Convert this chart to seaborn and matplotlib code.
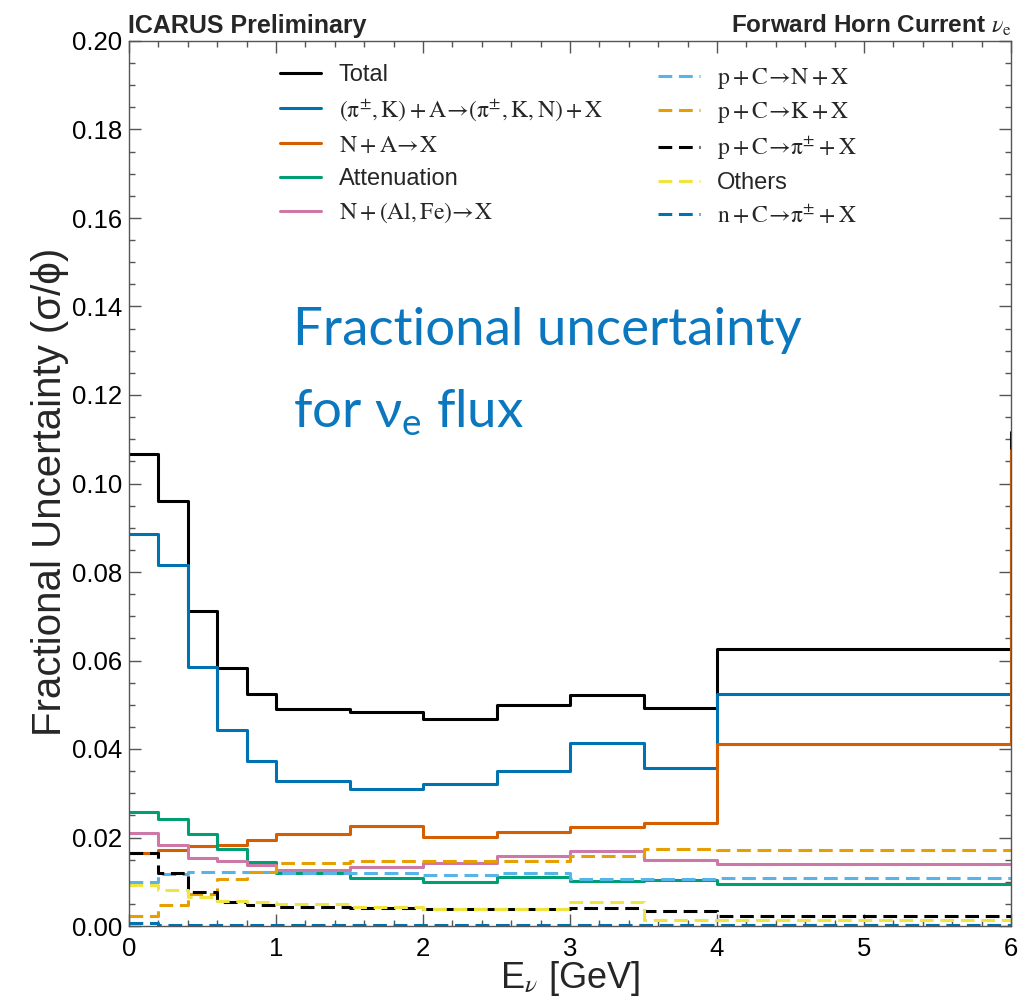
import numpy as np
import pandas as pd
import matplotlib
matplotlib.use("Agg")
import matplotlib.pyplot as plt
import seaborn as sns
from matplotlib.ticker import MultipleLocator, FormatStrFormatter
from matplotlib.font_manager import FontProperties

# ---------------- data (bin edges in GeV, fractional uncertainties) ----------------
bin_edges = [0.0, 0.2, 0.4, 0.6, 0.8, 1.0, 1.5, 2.0, 2.5, 3.0, 3.5, 4.0, 6.0, 7.0]  # last bin = overflow

total  = [0.1067, 0.0960, 0.0712, 0.0583, 0.0524, 0.0490, 0.0484, 0.0468, 0.0500, 0.0522, 0.0493, 0.0626, 0.1116]
pik_A  = [0.0886, 0.0816, 0.0585, 0.0442, 0.0373, 0.0328, 0.0310, 0.0322, 0.0351, 0.0414, 0.0358, 0.0524, 0.0524]
nuc_A  = [0.0165, 0.0171, 0.0180, 0.0184, 0.0195, 0.0208, 0.0226, 0.0201, 0.0212, 0.0224, 0.0233, 0.0411, 0.1076]
atten  = [0.0258, 0.0242, 0.0209, 0.0174, 0.0144, 0.0120, 0.0108, 0.0099, 0.0111, 0.0102, 0.0104, 0.0095, 0.0095]
alfe   = [0.0210, 0.0184, 0.0154, 0.0147, 0.0138, 0.0127, 0.0133, 0.0142, 0.0158, 0.0170, 0.0149, 0.0140, 0.0140]
pC_N   = [0.0099, 0.0118, 0.0122, 0.0122, 0.0121, 0.0120, 0.0120, 0.0115, 0.0120, 0.0106, 0.0106, 0.0108, 0.0108]
pC_K   = [0.0023, 0.0047, 0.0072, 0.0106, 0.0121, 0.0142, 0.0147, 0.0147, 0.0147, 0.0158, 0.0174, 0.0172, 0.0172]
pC_pi  = [0.0165, 0.0120, 0.0077, 0.0055, 0.0048, 0.0043, 0.0041, 0.0038, 0.0038, 0.0040, 0.0034, 0.0023, 0.0023]
others = [0.0093, 0.0082, 0.0065, 0.0057, 0.0055, 0.0050, 0.0043, 0.0038, 0.0038, 0.0054, 0.0014, 0.0014, 0.0014]
nC_pi  = [0.0007, 0.0003, 0.0002, 0.0002, 0.0002, 0.0002, 0.0002, 0.0002, 0.0002, 0.0002, 0.0002, 0.0002, 0.0002]

labels = [
    "Total",
    r"$\mathrm{(\pi^{\pm},K)+A\!\rightarrow\!(\pi^{\pm},K,N)+X}$",
    r"$\mathrm{N+A\!\rightarrow\!X}$",
    "Attenuation",
    r"$\mathrm{N+(Al,Fe)\!\rightarrow\!X}$",
    r"$\mathrm{p+C\!\rightarrow\!N+X}$",
    r"$\mathrm{p+C\!\rightarrow\!K+X}$",
    r"$\mathrm{p+C\!\rightarrow\!\pi^{\pm}+X}$",
    "Others",
    r"$\mathrm{n+C\!\rightarrow\!\pi^{\pm}+X}$",
]
series = [total, pik_A, nuc_A, atten, alfe, pC_N, pC_K, pC_pi, others, nC_pi]
colors = ["#000000", "#0072B2", "#D55E00", "#009E73", "#CC79A7",
          "#56B4E9", "#E69F00", "#000000", "#F0E442", "#0072B2"]
dashed = [False, False, False, False, False, True, True, True, True, True]

# ---------------- style ----------------
sns.set_theme(style="ticks")
plt.rcParams["font.family"] = ["Liberation Sans", "DejaVu Sans"]
plt.rcParams["mathtext.fontset"] = "custom"
plt.rcParams["mathtext.rm"] = "Lato"
plt.rcParams["mathtext.it"] = "Lato:italic"
plt.rcParams["mathtext.bf"] = "Lato:bold"

fig = plt.figure(figsize=(10.25, 10.01), dpi=100)
ax = fig.add_axes([129 / 1025, 1 - 926 / 1001, (1011 - 129) / 1025, (926 - 41) / 1001])

handles = []
for vals, col, dsh in zip(series, colors, dashed):
    df = pd.DataFrame({"E": bin_edges, "val": vals + [vals[-1]]})
    ls = (0, (4.5, 2.2)) if dsh else "-"
    sns.lineplot(data=df, x="E", y="val", ax=ax, color=col, linestyle=ls,
                 linewidth=2.2, drawstyle="steps-post", estimator=None,
                 sort=False, legend=False)
    handles.append(ax.lines[-1])

ax.set_xlim(0, 6)
ax.set_ylim(0, 0.2)
ax.xaxis.set_major_locator(MultipleLocator(1))
ax.xaxis.set_minor_locator(MultipleLocator(0.2))
ax.yaxis.set_major_locator(MultipleLocator(0.02))
ax.yaxis.set_minor_locator(MultipleLocator(0.005))
ax.yaxis.set_major_formatter(FormatStrFormatter("%.2f"))
ax.xaxis.set_major_formatter(FormatStrFormatter("%d"))
ax.tick_params(which="both", direction="in", top=True, right=True,
               color="#555555", labelcolor="black", width=1.0)
ax.tick_params(which="major", length=8.6, labelsize=18.5)
ax.tick_params(axis="y", which="major", pad=5)
ax.tick_params(axis="x", which="major", pad=8)
ax.tick_params(which="minor", length=4.6)
for sp in ax.spines.values():
    sp.set_color("#555555")
    sp.set_linewidth(1.0)
    sp.set_visible(True)

ax.set_xlabel(r"E$_{\nu}$ [GeV]", fontsize=26, math_fontfamily="stix")
ax.set_ylabel("Fractional Uncertainty (σ/ϕ)", fontsize=29)
ax.xaxis.set_label_coords(0.5, -0.037)
ax.yaxis.set_label_coords(-0.068, 0.49)

# legends
lp = FontProperties(family=["Liberation Sans", "DejaVu Sans"], size=17, math_fontfamily="stix")
common = dict(frameon=False, prop=lp, loc="upper left", borderpad=0, borderaxespad=0,
              handlelength=1.75, handletextpad=0.75)
leg1 = ax.legend(handles[:5], labels[:5], bbox_to_anchor=(0.171, 0.974),
                 labelspacing=0.47, **common)
ax.add_artist(leg1)
ax.legend(handles[5:], labels[5:], bbox_to_anchor=(0.600, 0.972),
          labelspacing=0.40, **common)

# header texts
fig.text(128 / 1025, 1 - 33 / 1001, "ICARUS Preliminary", fontsize=18, fontweight="bold",
         ha="left", va="baseline")
fig.text(1012 / 1025, 1 - 33 / 1001, r"Forward Horn Current $\nu_{\mathrm{e}}$", fontsize=17.5,
         fontweight="bold", ha="right", va="baseline", math_fontfamily="stix")

# annotation
blue = "#0a77bf"
fig.text(293 / 1025, 1 - 345 / 1001, "Fractional uncertainty", fontsize=38, color=blue,
         family=["Lato", "DejaVu Sans"], ha="left", va="baseline")
fig.text(293 / 1025, 1 - 428 / 1001, r"for ν$_{\mathrm{e}}$ flux", fontsize=38, color=blue,
         family=["Lato", "DejaVu Sans"], ha="left", va="baseline", math_fontfamily="custom")

fig.savefig("out.png", dpi=100)
